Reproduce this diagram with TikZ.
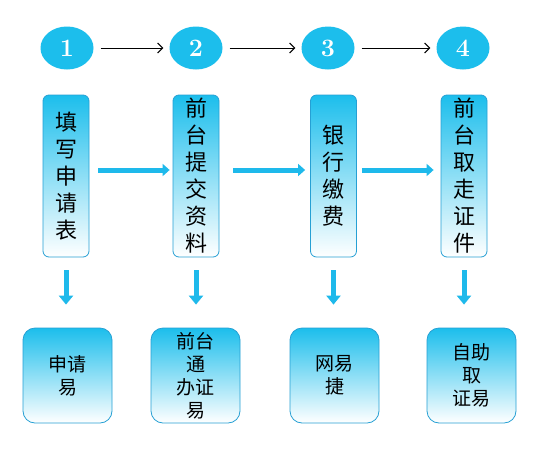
\documentclass[tikz,border=0pt]{standalone}
\usepackage{fontspec}
\newfontfamily\cjk{Noto Sans CJK SC}
\usetikzlibrary{arrows.meta,shapes.geometric}
\definecolor{cy}{RGB}{28,190,236}
\definecolor{bd}{RGB}{38,160,212}
\definecolor{ar}{RGB}{30,185,235}
\tikzset{
  numc/.style={ellipse,fill=cy,minimum width=53pt,minimum height=43pt,inner sep=0pt,
    text=white,font=\fontsize{25}{25}\selectfont\bfseries},
  topbox/.style={rectangle,rounded corners=6pt,draw=bd,line width=0.8pt,top color=cy,bottom color=white,
    minimum width=46pt,minimum height=162pt,inner sep=0pt,align=center,
    font=\cjk\fontsize{22}{27}\selectfont},
  botbox/.style={rectangle,rounded corners=12pt,draw=bd,line width=0.8pt,top color=cy,bottom color=white,
    minimum width=89pt,minimum height=95pt,inner sep=0pt,align=center,
    font=\cjk\fontsize{19}{23}\selectfont},
  karrow/.style={line width=1pt,-{Straight Barb[length=5pt,width=10pt]}},
  barrow/.style={draw=ar,line width=5pt,-{Triangle[length=7pt,width=12pt]}},
  darrow/.style={draw=ar,line width=5pt,-{Triangle[length=9pt,width=14pt]}}
}
\begin{document}
\begin{tikzpicture}[x=1pt,y=-1pt]
\useasboundingbox[fill=white] (0,0) rectangle (554,456);
\node[numc] (c1) at (67,48) {1};
\node[numc] (c2) at (196,48) {2};
\node[numc] (c3) at (328,48) {3};
\node[numc] (c4) at (463,48) {4};
\draw[karrow] ([xshift=7pt]c1.east) -- ([xshift=-6pt]c2.west);
\draw[karrow] ([xshift=7pt]c2.east) -- ([xshift=-6pt]c3.west);
\draw[karrow] ([xshift=7pt]c3.east) -- ([xshift=-6pt]c4.west);

\node[topbox] (b1) at (66,176) {填\\写\\申\\请\\表};
\node[topbox] (b2) at (196,176) {前\\台\\提\\交\\资\\料};
\node[topbox] (b3) at (333.5,176) {银\\行\\缴\\费};
\node[topbox] (b4) at (464,176) {前\\台\\取\\走\\证\\件};

\draw[barrow] ([xshift=9pt,yshift=6pt]b1.east) -- ([xshift=-3pt,yshift=6pt]b2.west);
\draw[barrow] ([xshift=14pt,yshift=6pt]b2.east) -- ([xshift=-5pt,yshift=6pt]b3.west);
\draw[barrow] ([xshift=5pt,yshift=6pt]b3.east) -- ([xshift=-7pt,yshift=6pt]b4.west);

\node[botbox] (d1) at (67.5,375.5) {申请\\易};
\node[botbox] (d2) at (195.5,375.5) {前台\\通\\办证\\易};
\node[botbox] (d3) at (334.5,375.5) {网易\\捷};
\node[botbox] (d4) at (471.5,375.5) {自助\\取\\证易};

\draw[darrow] ([yshift=-13pt]b1.south) -- ([yshift=23pt]b1.south |- d1.north);
\draw[darrow] ([yshift=-13pt]b2.south) -- ([yshift=23pt]b2.south |- d2.north);
\draw[darrow] ([yshift=-13pt]b3.south) -- ([yshift=23pt]b3.south |- d3.north);
\draw[darrow] ([yshift=-13pt]b4.south) -- ([yshift=23pt]b4.south |- d4.north);
\end{tikzpicture}
\end{document}
